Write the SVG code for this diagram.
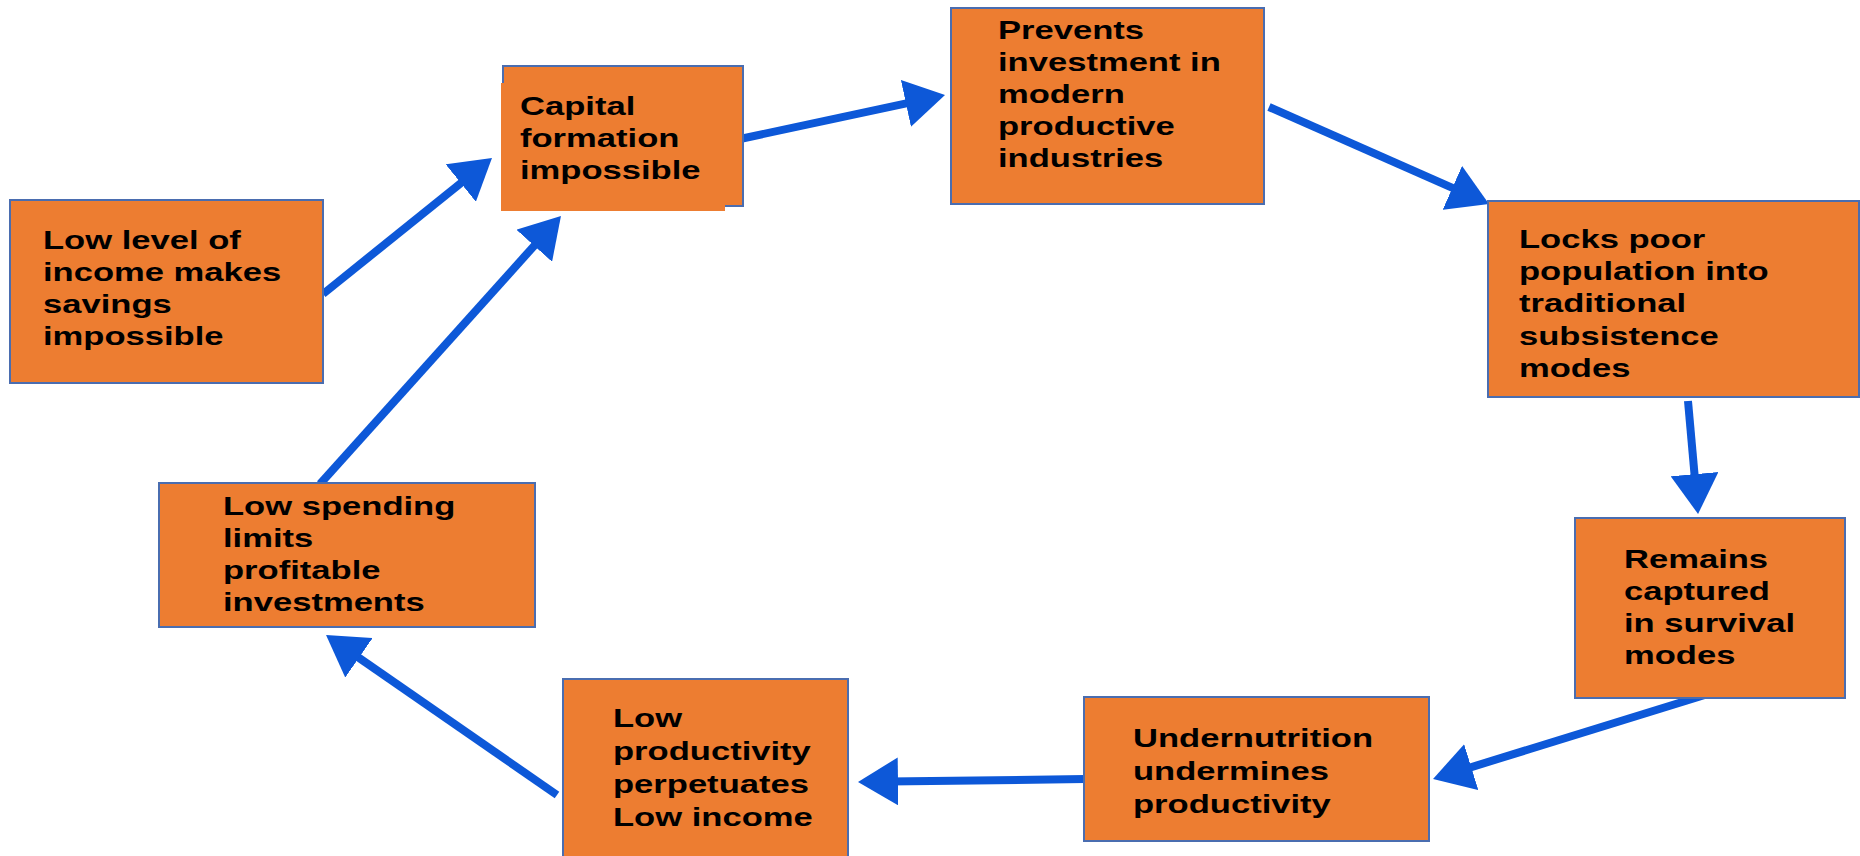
<svg xmlns="http://www.w3.org/2000/svg" width="1860" height="856" viewBox="0 0 1860 856">
<style>
.box{fill:#ED7D31;stroke:#4A6DB0;stroke-width:2}
.fill{fill:#ED7D31}
.lbl{font-family:"Liberation Sans",Arial,Helvetica,sans-serif;font-weight:bold;font-size:26px;fill:#000}
.arr{stroke:#0D58D8;stroke-width:8;fill:none;marker-end:url(#head)}
</style>
<defs>
<marker id="head" markerUnits="userSpaceOnUse" markerWidth="40" markerHeight="48" viewBox="0 0 40 48" refX="10" refY="24" orient="auto">
<path d="M0,0 L40,24 L0,48 Z" fill="#0D58D8"/>
</marker>
</defs>
<rect width="1860" height="856" fill="#fff"/>
<g id="connectors">
<line class="arr" x1="323" y1="294" x2="468.6" y2="176.8"/>
<line class="arr" x1="740" y1="139" x2="915.7" y2="101.3"/>
<line class="arr" x1="1269" y1="107" x2="1461.5" y2="191.9"/>
<line class="arr" x1="1688" y1="401" x2="1695.4" y2="484.1"/>
<line class="arr" x1="1708" y1="694" x2="1461.7" y2="770.1"/>
<line class="arr" x1="1085" y1="779" x2="888" y2="781.6"/>
<line class="arr" x1="557" y1="795" x2="350.7" y2="652.1"/>
<line class="arr" x1="320" y1="484" x2="540.9" y2="238.3"/>
</g>
<g id="n1">
<rect class="box" x="10" y="200" width="313" height="183"/>
<text class="lbl" transform="translate(43 0) scale(1.33 1)"><tspan x="0" y="249">Low level of</tspan><tspan x="0" y="281">income makes</tspan><tspan x="0" y="313">savings</tspan><tspan x="0" y="345">impossible</tspan></text>
</g>
<g id="n2">
<rect class="box" x="503" y="66" width="240" height="140"/>
<rect class="fill" x="501" y="83" width="224" height="128"/>
<text class="lbl" transform="translate(520 0) scale(1.33 1)"><tspan x="0" y="115">Capital</tspan><tspan x="0" y="147">formation</tspan><tspan x="0" y="179">impossible</tspan></text>
</g>
<g id="n3">
<rect class="box" x="951" y="8" width="313" height="196"/>
<text class="lbl" transform="translate(998 0) scale(1.33 1)"><tspan x="0" y="39">Prevents</tspan><tspan x="0" y="71">investment in</tspan><tspan x="0" y="103">modern</tspan><tspan x="0" y="135">productive</tspan><tspan x="0" y="167">industries</tspan></text>
</g>
<g id="n4">
<rect class="box" x="1488" y="201" width="371" height="196"/>
<text class="lbl" transform="translate(1519 0) scale(1.33 1)"><tspan x="0" y="248">Locks poor</tspan><tspan x="0" y="280">population into</tspan><tspan x="0" y="312">traditional</tspan><tspan x="0" y="345">subsistence</tspan><tspan x="0" y="377">modes</tspan></text>
</g>
<g id="n5">
<rect class="box" x="1575" y="518" width="270" height="180"/>
<text class="lbl" transform="translate(1624 0) scale(1.33 1)"><tspan x="0" y="568">Remains</tspan><tspan x="0" y="600">captured</tspan><tspan x="0" y="632">in survival</tspan><tspan x="0" y="664">modes</tspan></text>
</g>
<g id="n6">
<rect class="box" x="1084" y="697" width="345" height="144"/>
<text class="lbl" transform="translate(1133 0) scale(1.33 1)"><tspan x="0" y="747">Undernutrition</tspan><tspan x="0" y="780">undermines</tspan><tspan x="0" y="813">productivity</tspan></text>
</g>
<g id="n7">
<rect class="box" x="563" y="679" width="285" height="190"/>
<text class="lbl" transform="translate(613 0) scale(1.33 1)"><tspan x="0" y="727">Low</tspan><tspan x="0" y="760">productivity</tspan><tspan x="0" y="793">perpetuates</tspan><tspan x="0" y="826">Low income</tspan></text>
</g>
<g id="n8">
<rect class="box" x="159" y="483" width="376" height="144"/>
<text class="lbl" transform="translate(223 0) scale(1.33 1)"><tspan x="0" y="515">Low spending</tspan><tspan x="0" y="547">limits</tspan><tspan x="0" y="579">profitable</tspan><tspan x="0" y="611">investments</tspan></text>
</g>
</svg>
